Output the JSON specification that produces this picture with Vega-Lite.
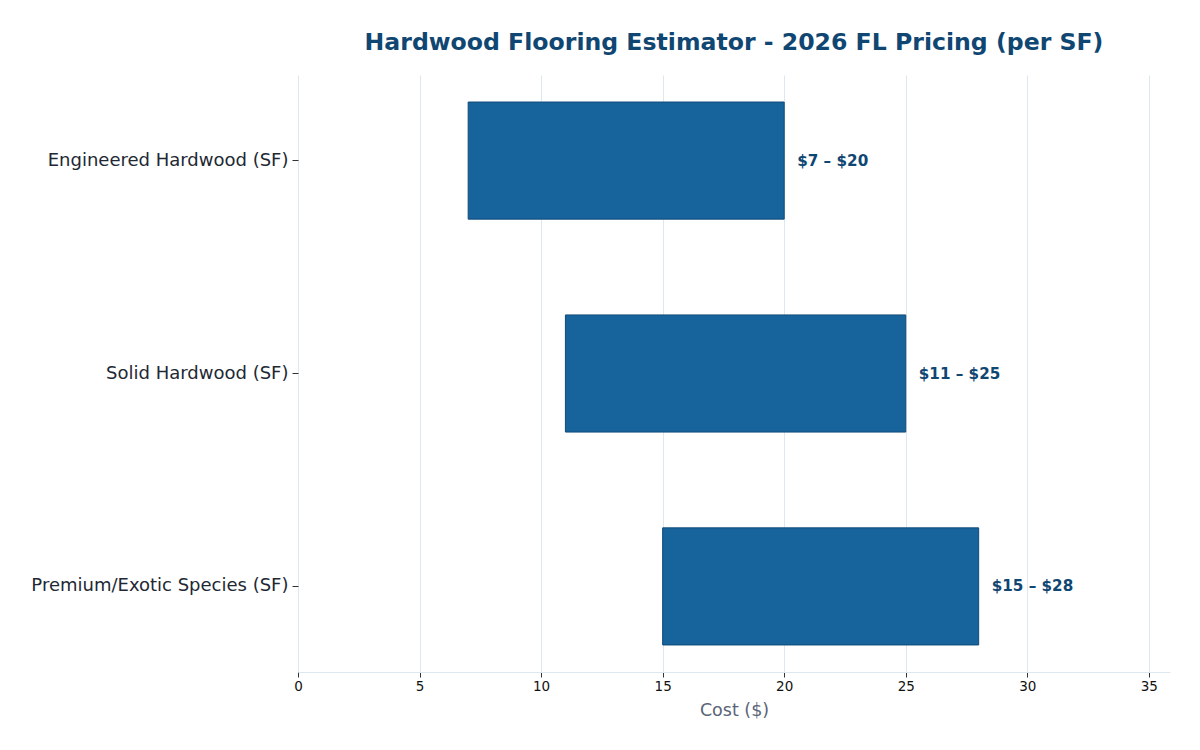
{
  "$schema": "https://vega.github.io/schema/vega-lite/v6.json",
  "width": 872,
  "height": 597,
  "autosize": {"type": "none"},
  "padding": {"left": 298, "top": 75, "right": 30, "bottom": 78},
  "background": "white",
  "config": {"view": {"stroke": null}, "font": "DejaVu Sans"},
  "title": {
    "text": "Hardwood Flooring Estimator - 2026 FL Pricing (per SF)",
    "fontSize": 23.6,
    "fontWeight": "bold",
    "color": "#0f4672",
    "font": "DejaVu Sans",
    "anchor": "middle",
    "offset": 20
  },
  "data": {
    "values": [
      {"item": "Engineered Hardwood (SF)", "low": 7, "high": 20, "label": "$7 – $20"},
      {"item": "Solid Hardwood (SF)", "low": 11, "high": 25, "label": "$11 – $25"},
      {"item": "Premium/Exotic Species (SF)", "low": 15, "high": 28, "label": "$15 – $28"}
    ]
  },
  "encoding": {
    "y": {
      "field": "item",
      "type": "nominal",
      "sort": null,
      "scale": {"paddingInner": 0.45, "paddingOuter": 0.127},
      "axis": {
        "title": null,
        "domain": false,
        "ticks": true,
        "tickSize": 6,
        "tickColor": "#333333",
        "labelFontSize": 18,
        "labelColor": "#222833",
        "labelPadding": 4,
        "labelLimit": 400,
        "grid": false
      }
    }
  },
  "layer": [
    {
      "mark": {"type": "bar", "color": "#17649d", "stroke": "#0f4a78", "strokeWidth": 1},
      "encoding": {
        "x": {
          "field": "low",
          "type": "quantitative",
          "scale": {"domain": [0, 35.87], "nice": false, "zero": false},
          "axis": {
            "title": "Cost ($)",
            "titleFontSize": 17.5,
            "titleFontWeight": "normal",
            "titleColor": "#5a6478",
            "titlePadding": 9,
            "values": [0, 5, 10, 15, 20, 25, 30, 35],
            "labelFontSize": 13.5,
            "labelFlush": false,
            "labelColor": "#111111",
            "tickColor": "#333333",
            "tickSize": 5,
            "domain": true,
            "domainColor": "#dde7f0",
            "grid": true,
            "gridColor": "#dde7f0",
            "gridWidth": 1
          }
        },
        "x2": {"field": "high"}
      }
    },
    {
      "mark": {"type": "text", "align": "left", "baseline": "middle", "dx": 13, "fontSize": 15.2, "fontWeight": "bold", "color": "#0f4672"},
      "encoding": {
        "x": {"field": "high", "type": "quantitative"},
        "text": {"field": "label"}
      }
    }
  ]
}
